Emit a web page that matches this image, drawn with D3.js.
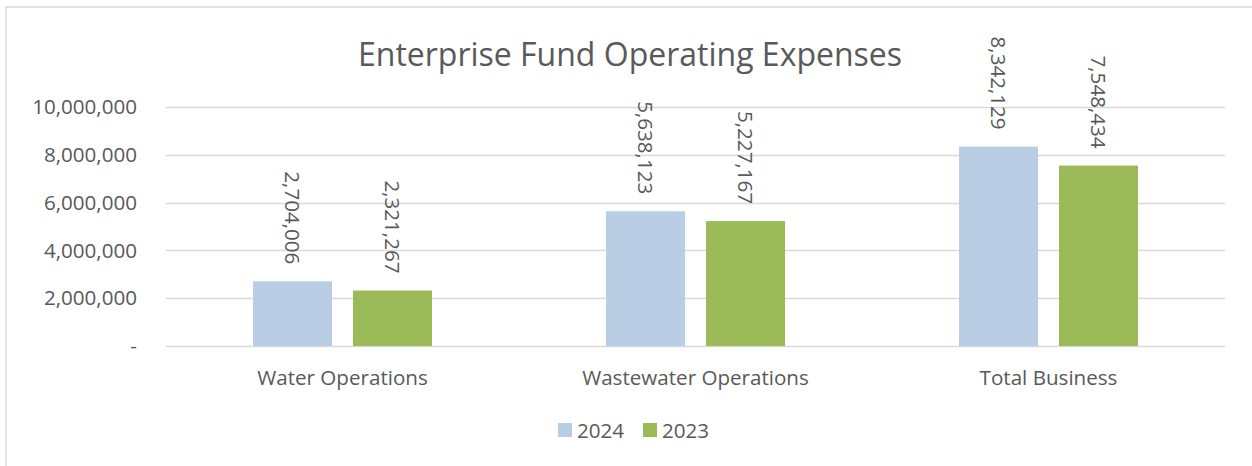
<!DOCTYPE html>
<html>
<head>
<meta charset="utf-8">
<script src="https://cdn.jsdelivr.net/npm/d3@7"></script>
<style>
  body { margin: 0; background: #fff; }
  svg text { font-family: "Open Sans", "Noto Sans", sans-serif; fill: #595959; }
</style>
</head>
<body>
<div id="chart"></div>
<script>
// chart data
const categories = ["Water Operations", "Wastewater Operations", "Total Business"];
const seriesNames = ["2024", "2023"];
const values2024 = [2704006, 5638123, 8342129];
const values2023 = [2321267, 5227167, 7548434];
const yTicks = [0, 2000000, 4000000, 6000000, 8000000, 10000000];
const colors = ["#B9CDE5", "#9BBB59"];

const width = 1252, height = 466;
const margin = { top: 107, right: 27, bottom: 120, left: 166 };
const fontSize = 20.6;

const svg = d3.select("#chart")
    .append("svg")
    .attr("width", width)
    .attr("height", height);

// chart border
svg.append("rect")
    .attr("x", 6).attr("y", 7)
    .attr("width", width + 10).attr("height", height + 10)
    .attr("fill", "none")
    .attr("stroke", "#D9D9D9")
    .attr("stroke-width", 1.5);

const x = d3.scaleBand()
    .domain(categories)
    .range([margin.left, width - margin.right])
    .paddingInner(0)
    .paddingOuter(0);

const y = d3.scaleLinear()
    .domain([0, 10000000])
    .range([height - margin.bottom, margin.top]);

const barW = 79, barGap = 21;

// gridlines
svg.append("g")
    .selectAll("line")
    .data(yTicks)
    .enter()
    .append("line")
    .attr("x1", margin.left)
    .attr("x2", width - margin.right)
    .attr("y1", d => Math.round(y(d)) + 0.5)
    .attr("y2", d => Math.round(y(d)) + 0.5)
    .attr("stroke", "#D9D9D9")
    .attr("stroke-width", 1.5);

// y axis labels
const fmt = d3.format(",");
svg.append("g")
    .selectAll("text")
    .data(yTicks)
    .enter()
    .append("text")
    .attr("x", 137)
    .attr("y", d => y(d))
    .attr("dy", "0.35em")
    .attr("text-anchor", "end")
    .attr("font-size", fontSize)
    .text(d => d === 0 ? "-" : fmt(d));

// bars
const series = [values2024, values2023];
series.forEach(function (vals, si) {
    const g = svg.append("g");
    const offset = si === 0 ? -(barW + barGap / 2) : barGap / 2;
    g.selectAll("rect")
        .data(vals)
        .enter()
        .append("rect")
        .attr("x", (d, i) => x(categories[i]) + x.bandwidth() / 2 + offset)
        .attr("y", d => y(d))
        .attr("width", barW)
        .attr("height", d => y(0) - y(d))
        .attr("fill", colors[si]);

    g.selectAll("text")
        .data(vals)
        .enter()
        .append("text")
        .attr("transform", (d, i) => {
            const cx = x(categories[i]) + x.bandwidth() / 2 + offset + barW / 2;
            return "translate(" + (cx - 8) + "," + (y(d) - 17) + ") rotate(90)";
        })
        .attr("text-anchor", "end")
        .attr("font-size", fontSize)
        .text(d => fmt(d));
});

// category labels
svg.append("g")
    .selectAll("text")
    .data(categories)
    .enter()
    .append("text")
    .attr("x", d => x(d) + x.bandwidth() / 2)
    .attr("y", 385)
    .attr("text-anchor", "middle")
    .attr("font-size", fontSize)
    .text(d => d);

// title
svg.append("text")
    .attr("x", 630)
    .attr("y", 66)
    .attr("text-anchor", "middle")
    .attr("font-size", 32)
    .text("Enterprise Fund Operating Expenses");

// legend
const legendX = [558, 643];
const legend = svg.append("g");
seriesNames.forEach(function (name, i) {
    legend.append("rect")
        .attr("x", legendX[i]).attr("y", 423)
        .attr("width", 14).attr("height", 14)
        .attr("fill", colors[i]);
    legend.append("text")
        .attr("x", legendX[i] + 19)
        .attr("y", 438)
        .attr("font-size", fontSize)
        .text(name);
});
</script>
</body>
</html>
